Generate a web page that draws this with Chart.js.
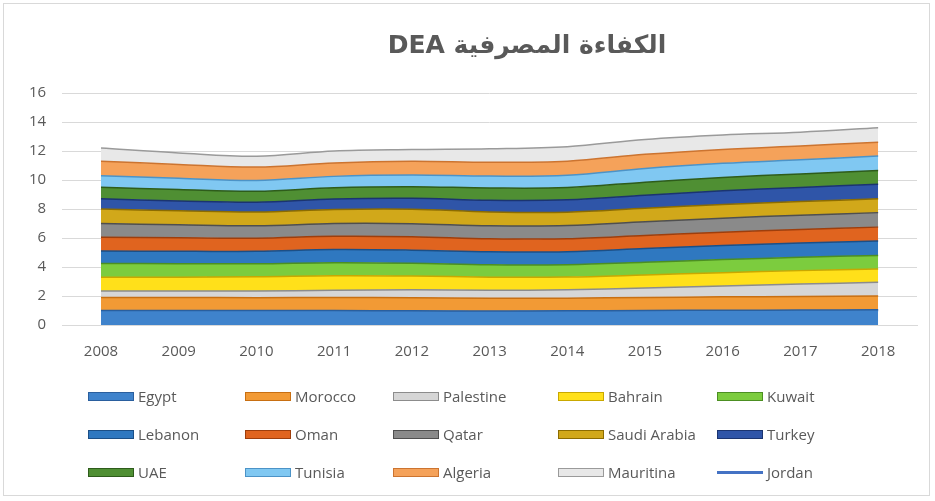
<!DOCTYPE html>
<html>
<head>
<meta charset="utf-8">
<script src="https://cdn.jsdelivr.net/npm/chart.js@4.4.1/dist/chart.umd.min.js"></script>
<style>
  body { margin: 0; background: #fff; }
  .frame {
    position: absolute; left: 3px; top: 3px; width: 927px; height: 493px;
    border: 1px solid #d9d9d9; box-sizing: border-box;
  }
  .title {
    position: absolute; left: 327px; top: 30px; width: 400px; text-align: center;
    font-family: "DejaVu Sans", sans-serif; font-weight: bold; font-size: 25px; color: #595959;
  }
  .chart-div { position: absolute; left: 0; top: 0; width: 935px; height: 381px; }
  .legend { position: absolute; left: 0; top: 0; width: 935px; height: 501px; pointer-events: none; }
  .item {
    position: absolute; height: 20px; line-height: 20px;
    font-family: "Open Sans", "Noto Sans", sans-serif; font-size: 15px; color: #595959;
    white-space: nowrap;
  }
  .box { display: inline-block; width: 46px; height: 9px; vertical-align: middle; margin-right: 4px; margin-top: -3px; box-sizing: border-box; }
  .line { display: inline-block; width: 46px; height: 3px; vertical-align: middle; margin-right: 4px; margin-top: -3px; }
</style>
</head>
<body>
<div class="frame"></div>
<div class="chart-div"><canvas id="myChart" width="935" height="381"></canvas></div>
<div class="title" dir="rtl">الكفاءة المصرفية DEA</div>
<div class="legend"></div>
<script>
let years = ["2008", "2009", "2010", "2011", "2012", "2013", "2014", "2015", "2016", "2017", "2018"];
let yTicks = [0, 2, 4, 6, 8, 10, 12, 14, 16];

// DEA efficiency score per country (stacked)
let egypt     = [1.00, 1.00, 1.00, 1.00, 0.98, 0.97, 0.98, 1.00, 1.02, 1.03, 1.05];
let morocco   = [0.90, 0.90, 0.88, 0.90, 0.90, 0.88, 0.87, 0.90, 0.92, 0.94, 0.95];
let palestine = [0.45, 0.45, 0.46, 0.50, 0.55, 0.55, 0.58, 0.65, 0.75, 0.85, 0.94];
let bahrain   = [0.95, 0.95, 0.98, 1.00, 0.95, 0.90, 0.88, 0.90, 0.92, 0.93, 0.93];
let kuwait    = [0.95, 0.93, 0.90, 0.90, 0.88, 0.85, 0.85, 0.87, 0.90, 0.92, 0.93];
let lebanon   = [0.85, 0.85, 0.87, 0.90, 0.90, 0.90, 0.90, 0.95, 0.97, 0.98, 1.00];
let oman      = [0.95, 0.93, 0.90, 0.92, 0.93, 0.90, 0.88, 0.90, 0.92, 0.94, 0.95];
let qatar     = [0.95, 0.90, 0.85, 0.88, 0.90, 0.90, 0.92, 0.95, 0.97, 0.98, 1.00];
let saudi     = [1.00, 0.97, 0.95, 0.97, 1.00, 0.95, 0.92, 0.93, 0.94, 0.95, 0.95];
let turkey    = [0.70, 0.68, 0.68, 0.72, 0.75, 0.80, 0.85, 0.90, 0.95, 0.97, 1.00];
let uae       = [0.80, 0.78, 0.75, 0.78, 0.80, 0.85, 0.85, 0.90, 0.92, 0.93, 0.95];
let tunisia   = [0.80, 0.78, 0.75, 0.78, 0.80, 0.82, 0.85, 0.95, 0.97, 0.98, 1.00];
let algeria   = [1.00, 0.95, 0.92, 0.93, 0.95, 0.95, 0.97, 0.97, 0.96, 0.95, 0.95];
let mauritina = [0.90, 0.80, 0.75, 0.82, 0.81, 0.93, 1.00, 1.03, 1.00, 0.95, 1.00];
let jordan    = [0.95, 0.95, 0.96, 0.96, 0.94, 0.93, 0.94, 0.96, 0.98, 0.99, 1.00];

let areas = [
  ["Egypt", egypt, "#3f83cc", "#2a5f9e"],
  ["Morocco", morocco, "#f29a35", "#c86f12"],
  ["Palestine", palestine, "#d6d6d6", "#8c8c8c"],
  ["Bahrain", bahrain, "#ffe01a", "#c9a800"],
  ["Kuwait", kuwait, "#7ccc3e", "#4c8f22"],
  ["Lebanon", lebanon, "#2f78c0", "#1c4f86"],
  ["Oman", oman, "#e0641f", "#9e3e0c"],
  ["Qatar", qatar, "#8a8a8a", "#4f4f4f"],
  ["Saudi Arabia", saudi, "#d1a81a", "#8c6c00"],
  ["Turkey", turkey, "#2f55a8", "#1b3470"],
  ["UAE", uae, "#4f8f33", "#2e5c1b"],
  ["Tunisia", tunisia, "#80c8f2", "#4c93c7"],
  ["Algeria", algeria, "#f5a25a", "#cc7430"],
  ["Mauritina", mauritina, "#e8e8e8", "#9a9a9a"]
];

let datasets = areas.map((a, idx) => {
  return {
    label: a[0],
    data: a[1],
    backgroundColor: a[2],
    borderColor: a[3],
    borderWidth: 1.5,
    fill: idx == 0 ? "origin" : "-1",
    stack: "dea",
    tension: 0.35,
    pointRadius: 0
  };
});

datasets.push({
  label: "Jordan",
  data: jordan,
  borderColor: "#4472c4",
  backgroundColor: "#4472c4",
  borderWidth: 2,
  fill: false,
  stack: "jordan",
  tension: 0.35,
  pointRadius: 0
});

const ctx = document.getElementById("myChart");

let chart = new Chart(ctx, {
  type: "line",
  data: { labels: years, datasets: datasets },
  options: {
    responsive: false,
    animation: false,
    layout: { padding: { left: 13, right: 18, top: 93, bottom: 10 } },
    plugins: {
      legend: { display: false },
      tooltip: { enabled: false }
    },
    scales: {
      x: {
        offset: true,
        grid: { display: false },
        border: { color: "#d9d9d9" },
        ticks: { color: "#595959", padding: 10, font: { family: "Open Sans", size: 15 } }
      },
      y: {
        stacked: true,
        min: 0,
        max: 16,
        afterBuildTicks: (axis) => { axis.ticks = yTicks.map((v) => ({ value: v })); },
        grid: { color: "#d9d9d9", drawTicks: false },
        border: { display: false },
        ticks: { color: "#595959", padding: 16, font: { family: "Open Sans", size: 15 } }
      }
    }
  }
});

// legend laid out in a 5 x 3 grid like the original
let legend = document.querySelector(".legend");
let colX = [88, 245, 393, 558, 717];
let rowY = [386, 424, 462];
chart.data.datasets.forEach((ds, idx) => {
  let div = document.createElement("div");
  div.className = "item";
  div.style.left = colX[idx % 5] + "px";
  div.style.top = rowY[Math.floor(idx / 5)] + "px";
  let mark = document.createElement("span");
  if (ds.fill === false) {
    mark.className = "line";
    mark.style.background = ds.borderColor;
  } else {
    mark.className = "box";
    mark.style.background = ds.backgroundColor;
    mark.style.border = "1px solid " + ds.borderColor;
  }
  div.appendChild(mark);
  div.appendChild(document.createTextNode(ds.label));
  legend.appendChild(div);
});
</script>
</body>
</html>
